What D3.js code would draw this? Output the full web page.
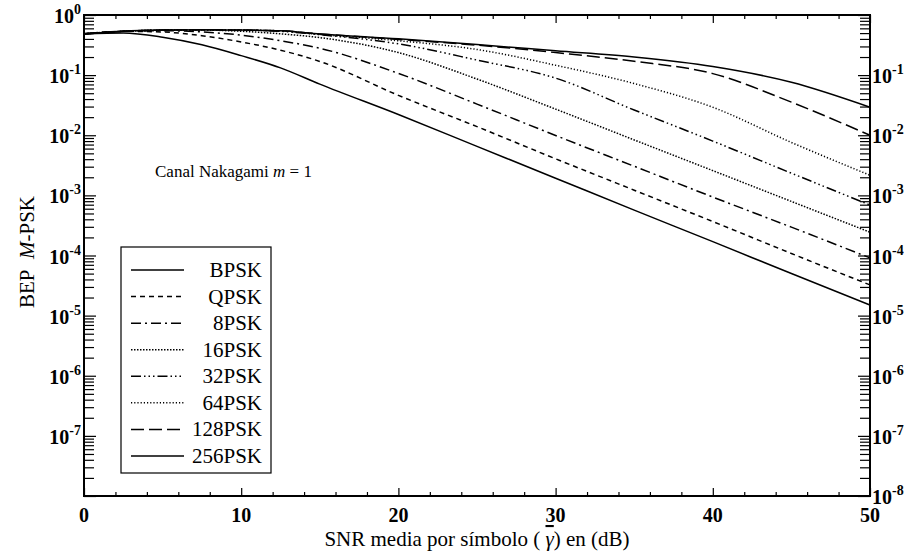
<!DOCTYPE html>
<html>
<head>
<meta charset="utf-8">
<script src="https://cdn.jsdelivr.net/npm/d3@7"></script>
<style>
  body { margin: 0; background: #fff; }
  svg { display: block; font-family: "Liberation Serif", "Times New Roman", serif; }
</style>
</head>
<body>
<svg></svg>
<script>
// SNR (dB) sample points and BEP
let snr = [0, 2.5, 5, 7.5, 10, 12.5, 15, 20, 25, 30, 35, 40, 45, 50]

let bpsk   = [0.483, 0.501, 0.427, 0.320, 0.211, 0.132, 0.0708, 0.0221, 6.53e-3, 1.93e-3, 5.69e-4, 1.70e-4, 5.01e-5, 1.50e-5]
let qpsk   = [0.486, 0.536, 0.522, 0.452, 0.356, 0.260, 0.169, 0.0461, 0.0139, 4.06e-3, 1.22e-3, 3.67e-4, 1.08e-4, 3.24e-5]
let psk8   = [0.486, 0.536, 0.548, 0.522, 0.463, 0.373, 0.280, 0.107, 0.0330, 9.91e-3, 3.05e-3, 9.38e-4, 2.96e-4, 9.12e-5]
let psk16  = [0.486, 0.536, 0.561, 0.561, 0.536, 0.486, 0.421, 0.237, 0.0861, 0.0272, 8.36e-3, 2.58e-3, 7.93e-4, 2.44e-4]
let psk32  = [0.486, 0.536, 0.561, 0.566, 0.561, 0.536, 0.470, 0.331, 0.178, 0.0891, 0.0263, 8.0e-3, 2.34e-3, 6.9e-4]
let psk64  = [0.485, 0.536, 0.561, 0.571, 0.561, 0.546, 0.474, 0.373, 0.267, 0.146, 0.0724, 0.0292, 7.59e-3, 2.16e-3]
let psk128 = [0.485, 0.536, 0.561, 0.571, 0.561, 0.546, 0.485, 0.392, 0.315, 0.237, 0.170, 0.106, 0.0355, 0.0100]
let psk256 = [0.485, 0.536, 0.561, 0.571, 0.561, 0.546, 0.485, 0.401, 0.323, 0.254, 0.200, 0.139, 0.0762, 0.0293]

let names = ['BPSK', 'QPSK', '8PSK', '16PSK', '32PSK', '64PSK', '128PSK', '256PSK']
let series = [bpsk, qpsk, psk8, psk16, psk32, psk64, psk128, psk256]
let dashes = ['none', '5,4', '10,4,2,4', '1.5,1.5', '10,3,1.5,3,1.5,3,1.5,3', '1.2,2', '13,5', 'none']

let xMajor = [0, 10, 20, 30, 40, 50]
let leftExp = [0, -1, -2, -3, -4, -5, -6, -7]
let rightExp = [-1, -2, -3, -4, -5, -6, -7, -8]

let width = 908
let height = 559
let plotL = 84, plotR = 870, plotT = 15, plotB = 496

let svg = d3.select('svg').attr('width', width).attr('height', height)

let xScale = d3.scaleLinear().domain([0, 50]).range([plotL, plotR])
let yScale = d3.scaleLog().domain([1e-8, 1]).range([plotB, plotT])

// tick values
let xMinor = d3.range(0, 51, 2).filter(v => v % 10 !== 0)
let yMajor = d3.range(-8, 1).map(e => Math.pow(10, e))
let yMinor = []
d3.range(-8, 0).forEach(e => {
  for (let k = 2; k <= 9; k++) yMinor.push(k * Math.pow(10, e))
})

let tickGroup = (axis, tx, ty) => {
  let g = svg.append('g').attr('transform', `translate(${tx},${ty})`).call(axis)
  g.select('.domain').remove()
  g.selectAll('line').attr('stroke', '#000').attr('stroke-width', 1.2)
  return g
}

tickGroup(d3.axisBottom(xScale).tickValues(xMajor).tickSize(-8).tickFormat(''), 0, plotB)
tickGroup(d3.axisBottom(xScale).tickValues(xMinor).tickSize(-4).tickFormat(''), 0, plotB)
tickGroup(d3.axisTop(xScale).tickValues(xMajor).tickSize(-8).tickFormat(''), 0, plotT)
tickGroup(d3.axisTop(xScale).tickValues(xMinor).tickSize(-4).tickFormat(''), 0, plotT)
tickGroup(d3.axisLeft(yScale).tickValues(yMajor).tickSize(-12).tickFormat(''), plotL, 0)
tickGroup(d3.axisLeft(yScale).tickValues(yMinor).tickSize(-10).tickFormat(''), plotL, 0)
tickGroup(d3.axisRight(yScale).tickValues(yMajor).tickSize(-12).tickFormat(''), plotR, 0)
tickGroup(d3.axisRight(yScale).tickValues(yMinor).tickSize(-10).tickFormat(''), plotR, 0)

// frame
svg.append('rect')
   .attr('x', plotL).attr('y', plotT)
   .attr('width', plotR - plotL).attr('height', plotB - plotT)
   .attr('fill', 'none').attr('stroke', '#000').attr('stroke-width', 2)

// tick labels
let powLabel = (sel, e) => {
  sel.append('tspan').text('10')
  sel.append('tspan').attr('dy', -9).attr('font-size', 14).text(e)
}

svg.append('g').selectAll('text')
   .data(leftExp).enter().append('text')
   .attr('x', 81)
   .attr('y', d => yScale(Math.pow(10, d)) + 8)
   .attr('text-anchor', 'end')
   .attr('font-size', 20).attr('font-weight', 'bold')
   .each(function (d) { powLabel(d3.select(this), d) })

svg.append('g').selectAll('text')
   .data(rightExp).enter().append('text')
   .attr('x', 872)
   .attr('y', d => yScale(Math.pow(10, d)) + 8)
   .attr('font-size', 20).attr('font-weight', 'bold')
   .each(function (d) { powLabel(d3.select(this), d) })

svg.append('g').selectAll('text')
   .data(xMajor).enter().append('text')
   .attr('x', d => xScale(d))
   .attr('y', 522)
   .attr('text-anchor', 'middle')
   .attr('font-size', 20).attr('font-weight', 'bold')
   .text(d => d)

// axis titles
let xt = svg.append('text')
   .attr('x', 477).attr('y', 546)
   .attr('text-anchor', 'middle')
   .attr('font-size', 21)
xt.append('tspan').text('SNR media por símbolo ( ')
xt.append('tspan').attr('font-style', 'italic').style('text-decoration', 'overline').text('γ')
xt.append('tspan').text(') en (dB)')

let yt = svg.append('text')
   .attr('transform', 'translate(34,252) rotate(-90)')
   .attr('text-anchor', 'middle')
   .attr('font-size', 21)
yt.append('tspan').text('BEP\u00a0\u00a0')
yt.append('tspan').attr('font-style', 'italic').text('M')
yt.append('tspan').text('-PSK')

let note = svg.append('text')
   .attr('x', 155).attr('y', 177)
   .attr('font-size', 17)
note.append('tspan').text('Canal Nakagami ')
note.append('tspan').attr('font-style', 'italic').text('m')
note.append('tspan').text(' = 1')

// curves
let line = d3.line()
   .x((d, i) => xScale(snr[i]))
   .y(d => yScale(d))
   .curve(d3.curveMonotoneX)

svg.append('g').selectAll('path')
   .data(series).enter().append('path')
   .attr('d', d => line(d))
   .attr('fill', 'none')
   .attr('stroke', '#000')
   .attr('stroke-width', 1.5)
   .attr('stroke-dasharray', (d, i) => dashes[i])

// legend
let lg = svg.append('g')
lg.append('rect')
  .attr('x', 121).attr('y', 247).attr('width', 150).attr('height', 226)
  .attr('fill', '#fff').attr('stroke', '#000').attr('stroke-width', 1.2)

let rowY = d3.scaleLinear().domain([0, 7]).range([270, 456])

lg.selectAll('line.key')
  .data(names).enter().append('line')
  .attr('x1', 131).attr('x2', 184)
  .attr('y1', (d, i) => rowY(i)).attr('y2', (d, i) => rowY(i))
  .attr('stroke', '#000').attr('stroke-width', 1.5)
  .attr('stroke-dasharray', (d, i) => dashes[i])

lg.selectAll('text')
  .data(names).enter().append('text')
  .attr('x', 262)
  .attr('y', (d, i) => rowY(i) + 7)
  .attr('text-anchor', 'end')
  .attr('font-size', 21)
  .text(d => d)
</script>
</body>
</html>
